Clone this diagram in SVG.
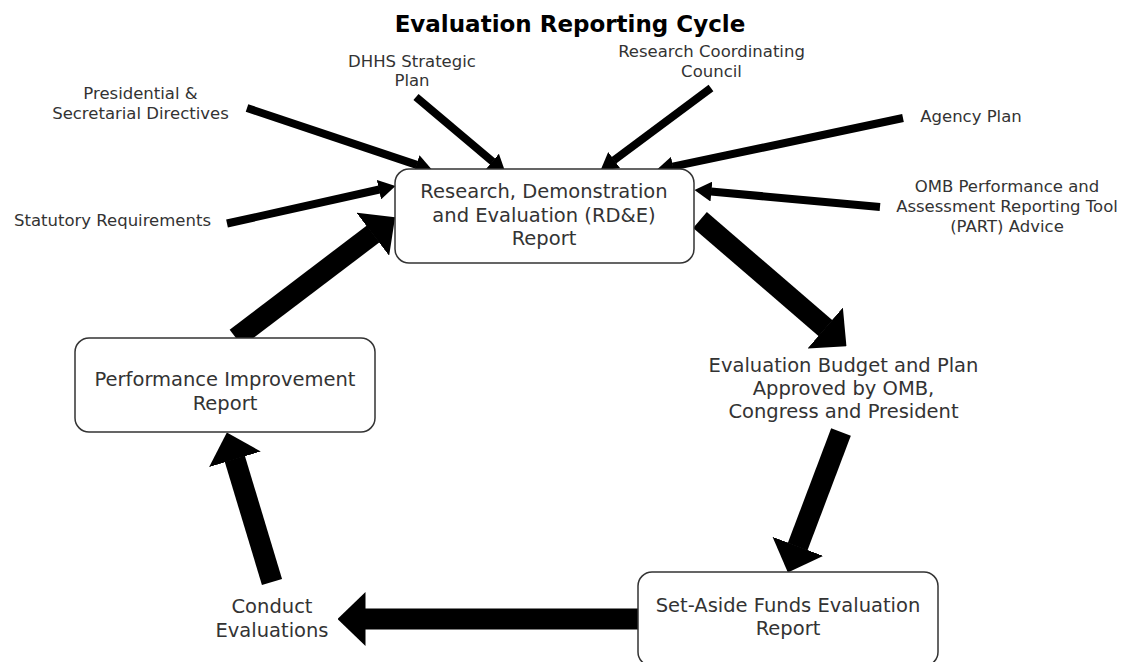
<svg xmlns="http://www.w3.org/2000/svg" width="1128" height="662" viewBox="0 0 1128 662">
  <style>
    .title { font-family: "DejaVu Sans", Verdana, sans-serif; font-weight: bold; font-size: 23px; fill: #000; text-anchor: middle; }
    .node-box { fill: #fff; stroke: #333; stroke-width: 1.5; }
    .node-text { font-family: "DejaVu Sans", Verdana, sans-serif; font-size: 19.5px; fill: #333; text-anchor: middle; }
    .label { font-family: "DejaVu Sans", Verdana, sans-serif; font-size: 16.5px; fill: #333; text-anchor: middle; }
    .thin { stroke: #000; stroke-width: 8; fill: none; marker-end: url(#head-sm); }
    .thick { stroke: #000; stroke-width: 21; fill: none; marker-end: url(#head-lg); }
  </style>
  <defs>
    <marker id="head-sm" markerUnits="userSpaceOnUse" markerWidth="17" markerHeight="20" viewBox="0 0 17 20" refX="0.5" refY="10" orient="auto">
      <path d="M0,0 L17,10 L0,20 z" fill="#000"/>
    </marker>
    <marker id="head-lg" markerUnits="userSpaceOnUse" markerWidth="28" markerHeight="54" viewBox="0 0 28 54" refX="0.5" refY="27" orient="auto">
      <path d="M0,0 L28,27 L0,54 z" fill="#000"/>
    </marker>
  </defs>
  <rect width="1128" height="662" fill="#fff"/>

  <text class="title" x="570" y="32">Evaluation Reporting Cycle</text>

  <g id="connectors">
    <line class="thin" x1="247" y1="108" x2="416.8" y2="164.9"/>
    <line class="thin" x1="416" y1="97" x2="492.8" y2="161.7"/>
    <line class="thin" x1="711" y1="88" x2="613.8" y2="160.4"/>
    <line class="thin" x1="903" y1="118" x2="672.6" y2="166.7"/>
    <line class="thin" x1="880" y1="207" x2="710.9" y2="191.5"/>
    <line class="thin" x1="227" y1="223.5" x2="379.4" y2="189.5"/>
    <line class="thick" x1="236" y1="338" x2="373.2" y2="233.9"/>
    <line class="thick" x1="700" y1="220" x2="825.6" y2="328.3"/>
    <line class="thick" x1="841" y1="432" x2="797.6" y2="546.8"/>
    <line class="thick" x1="645" y1="619" x2="365" y2="619"/>
    <line class="thick" x1="272" y1="582" x2="234.8" y2="458.8"/>
  </g>

  <g id="rde-report">
    <rect class="node-box" x="395" y="169" width="299" height="94" rx="14"/>
    <text class="node-text" x="544" y="198">Research, Demonstration</text>
    <text class="node-text" x="544" y="221.5">and Evaluation (RD&amp;E)</text>
    <text class="node-text" x="544" y="245">Report</text>
  </g>

  <g id="performance-report">
    <rect class="node-box" x="75" y="338" width="300" height="94" rx="14"/>
    <text class="node-text" x="225" y="386">Performance Improvement</text>
    <text class="node-text" x="225" y="410">Report</text>
  </g>

  <g id="budget-plan">
    <text class="node-text" x="843.5" y="372">Evaluation Budget and Plan</text>
    <text class="node-text" x="843.5" y="395">Approved by OMB,</text>
    <text class="node-text" x="843.5" y="418">Congress and President</text>
  </g>

  <g id="set-aside-report">
    <rect class="node-box" x="638" y="572" width="300" height="94" rx="14"/>
    <text class="node-text" x="788" y="612">Set-Aside Funds Evaluation</text>
    <text class="node-text" x="788" y="635">Report</text>
  </g>

  <g id="conduct-evaluations">
    <text class="node-text" x="272" y="613">Conduct</text>
    <text class="node-text" x="272" y="637">Evaluations</text>
  </g>

  <g id="presidential-directives">
    <text class="label" x="140.5" y="99">Presidential &amp;</text>
    <text class="label" x="140.5" y="119">Secretarial Directives</text>
  </g>

  <g id="dhhs-plan">
    <text class="label" x="412" y="67">DHHS Strategic</text>
    <text class="label" x="412" y="86">Plan</text>
  </g>

  <g id="research-council">
    <text class="label" x="711.5" y="57">Research Coordinating</text>
    <text class="label" x="711.5" y="77">Council</text>
  </g>

  <g id="agency-plan">
    <text class="label" x="971" y="122">Agency Plan</text>
  </g>

  <g id="omb-part">
    <text class="label" x="1007" y="192">OMB Performance and</text>
    <text class="label" x="1007" y="212">Assessment Reporting Tool</text>
    <text class="label" x="1007" y="232">(PART) Advice</text>
  </g>

  <g id="statutory-requirements">
    <text class="label" x="112.5" y="226">Statutory Requirements</text>
  </g>
</svg>
